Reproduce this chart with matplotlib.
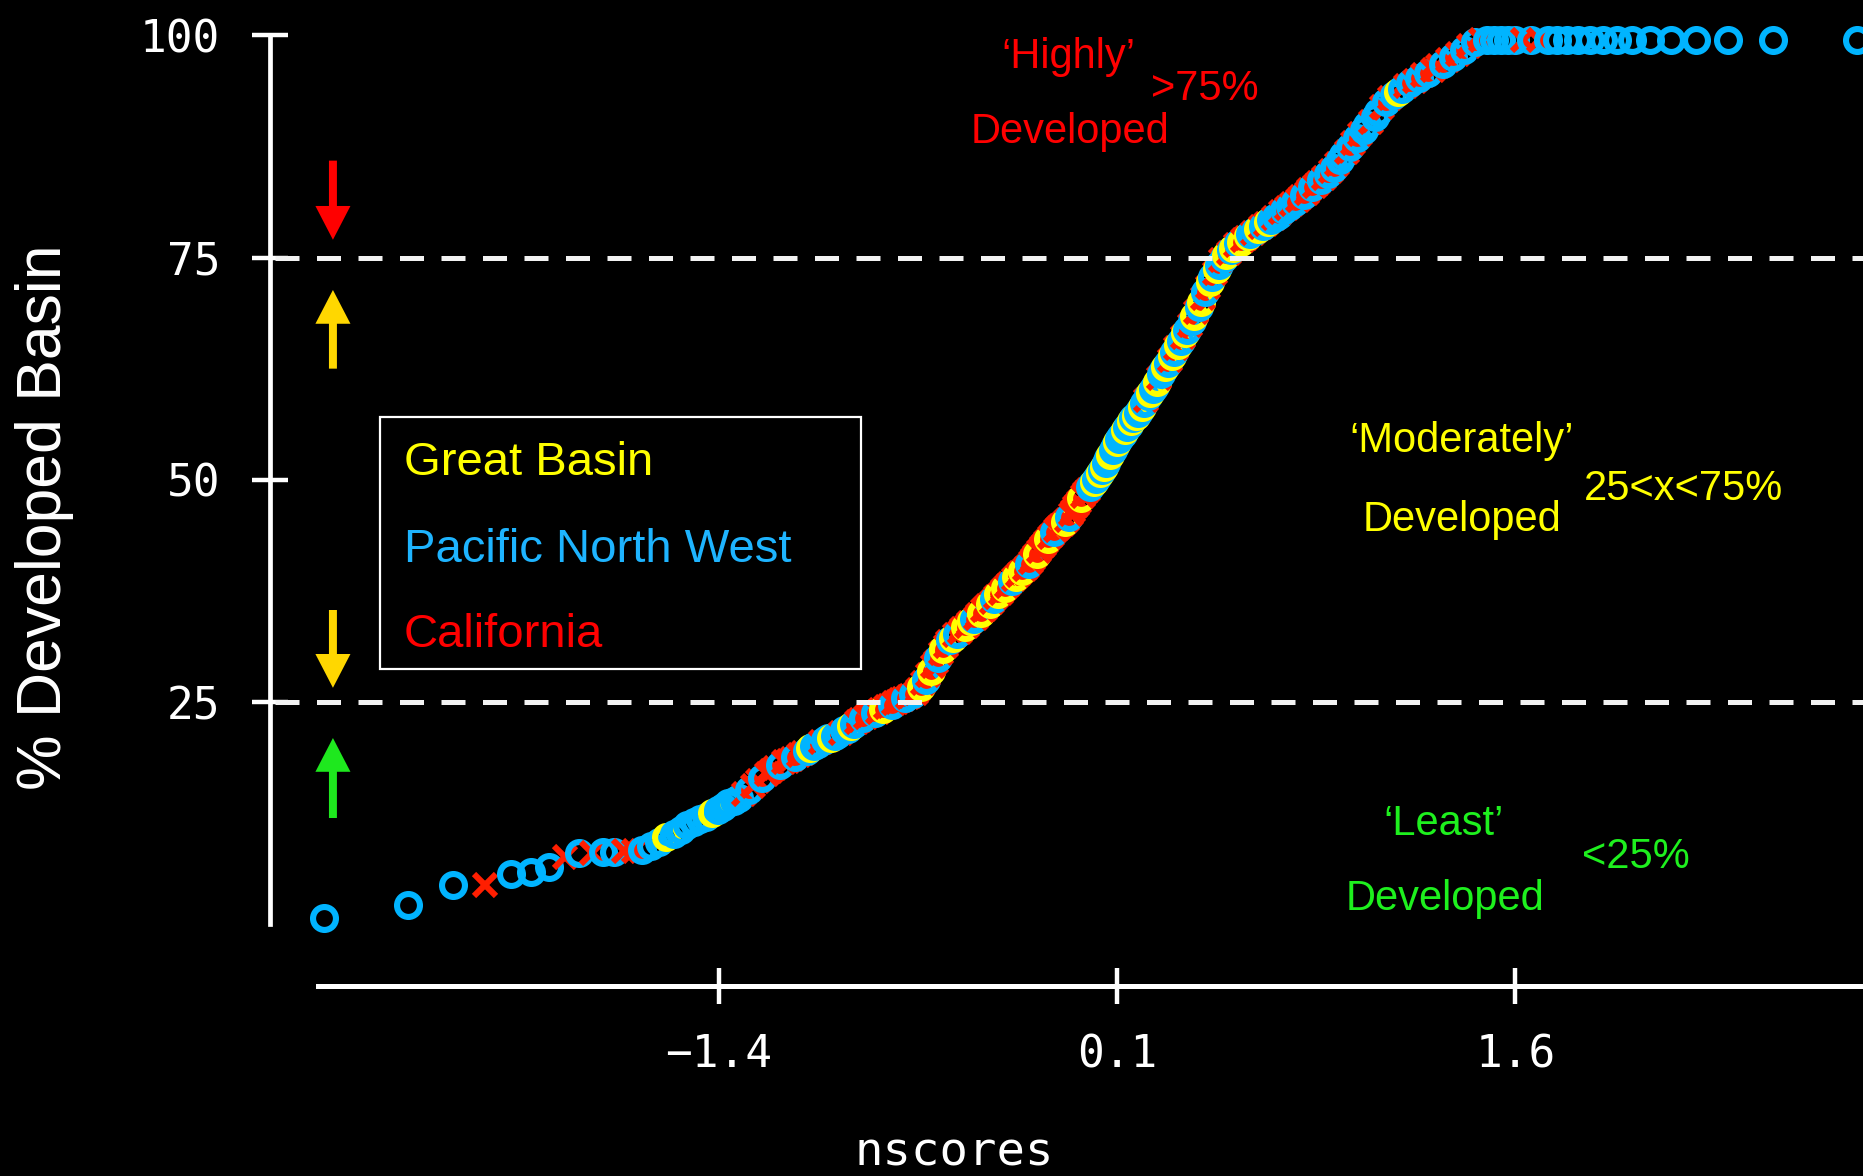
import matplotlib
matplotlib.use("Agg")
import matplotlib.pyplot as plt
from matplotlib.patches import Rectangle
from statistics import NormalDist

plt.rcParams['font.family'] = ['Liberation Sans', 'DejaVu Sans']

W, H = 1863, 1176

# Percent of basin area developed, pooled over all regions, sorted ascending
pct_developed = [
    0.7, 2.2, 4.4, 4.4, 5.6, 5.9, 6.4, 7.6,
    8.0, 8.0, 8.1, 8.1, 8.2, 8.2, 8.3,
    8.8, 9.3, 9.8, 10.1, 10.6, 11.2,
    11.5, 11.8, 12.1, 12.5,
    12.9, 13.2, 13.6, 13.9, 14.2,
    14.6, 15.1, 15.6, 16.1,
    16.5, 16.9, 17.2, 17.6,
    17.9, 18.2, 18.4, 18.6, 18.8,
    19.0, 19.3, 19.5, 19.8, 20.0, 20.3,
    20.5, 20.7, 20.9, 21.0, 21.2, 21.4, 21.5,
    21.8, 22.0, 22.3, 22.5, 22.8, 23.0,
    23.2, 23.3, 23.5, 23.6, 23.8, 23.9, 24.1,
    24.2, 24.4, 24.5, 24.7, 24.9, 25.0, 25.2,
    25.3, 25.5, 25.6, 25.7, 25.9, 26.0,
    26.4, 26.7, 27.1, 27.5,
    28.0, 28.5, 29.0, 29.5,
    30.0, 30.5, 31.0,
    31.3, 31.7, 32.0,
    32.2, 32.5, 32.7, 32.9, 33.2, 33.4, 33.6, 33.9, 34.1, 34.3, 34.5, 34.8, 35.0,
    35.3, 35.5, 35.8, 36.0, 36.3, 36.6, 36.8, 37.1, 37.3, 37.6, 37.8, 38.1, 38.3,
    38.6, 38.8, 39.1, 39.3, 39.5, 39.7, 40.0, 40.2,
    40.5, 40.8, 41.1, 41.4, 41.7, 42.0, 42.4, 42.7, 43.0, 43.3, 43.6,
    43.8, 44.1, 44.3, 44.6, 44.8, 45.0, 45.3, 45.5,
    45.8, 46.2, 46.5, 46.9, 47.2, 47.5, 47.9, 48.2, 48.5, 48.9,
    49.2, 49.5, 49.8, 50.1, 50.4, 50.8, 51.1, 51.4,
    51.9, 52.4, 52.8, 53.3, 53.8, 54.2, 54.6,
    54.9, 55.2, 55.6, 55.9, 56.2, 56.6, 56.9, 57.2, 57.5, 57.9, 58.2,
    58.6, 59.0, 59.4, 59.8, 60.2, 60.6,
    61.0, 61.4, 61.9, 62.3, 62.7, 63.1, 63.5,
    63.9, 64.4, 64.8, 65.2, 65.6, 66.1, 66.5,
    66.9, 67.4, 67.9, 68.4, 68.9, 69.4,
    70.0, 70.5, 71.1, 71.7, 72.2, 72.8,
    73.3, 73.7, 74.2, 74.7,
    75.0, 75.3, 75.5, 75.8, 76.1, 76.4,
    76.6, 76.8, 77.0, 77.2, 77.4, 77.6, 77.8, 78.0, 78.2,
    78.4, 78.6, 78.8, 79.0, 79.2, 79.4, 79.6,
    79.8, 80.1, 80.3, 80.6, 80.8, 81.0, 81.3, 81.5,
    81.8, 82.0, 82.3, 82.6, 82.9, 83.1, 83.4, 83.7,
    84.0, 84.4, 84.7, 85.1, 85.5,
    86.0, 86.5, 86.9, 87.4,
    87.9, 88.4, 88.9, 89.4, 89.9, 90.3,
    90.8, 91.4, 91.9, 92.5, 93.0,
    93.3, 93.6, 94.0, 94.3, 94.6,
    94.9, 95.2, 95.5, 95.8, 96.1,
    96.5, 96.8, 97.2, 97.6, 97.9, 98.3,
    98.8, 99.2,
    99.5, 99.5, 99.5, 99.5, 99.5, 99.5, 99.5, 99.5, 99.5, 99.5,
    99.5, 99.5, 99.5, 99.5, 99.5, 99.5, 99.5, 99.5, 99.5, 99.5,
    99.5, 99.5, 99.5,
]

# region of each basin in the same order (G = Great Basin, P = Pacific NW, C = California)
region_codes = "".join([
    "PPPCPPPC", "PCPPCCP",
    "PPGPPPPPPGPPPPP", "CPCCPCCCPCCCPCC", "PGPPCPPGPPCPPGP",
    "CCPCCCPCCGCCPCCCCPCC", "PCCGCPCGCCPCGCCPGCPC",
    "CGCCGPCCGCCCGCPCGCCGCCPCG", "CCGCCPCCCGCCCCGCCPCCCCGCP",
    "CCCCCGCCCPPGPPGPGPPGPPGPP", "PGPPGPGPPGPCPGPPGCPPGPCGP",
    "CGPCGPCPGCPGCPCGPCGPCPGCP", "GCPGCCGPCPGCPCGPCPPCPCPCP",
    "CCPCCPCCPCPCPCPPCPCPCPPCP", "PCPCPGPCPCPCPCCPCPCPCP",
    "CPPPPPCPCPPPPPPPPPPPPPP",
])
assert len(region_codes) == len(pct_developed)

regions = ["Great Basin", "Pacific North West", "California"]
region_keys = ["G", "P", "C"]
region_colors = ["#FFFF00", "#00B4FF", "#FF1E00"]
region_markers = ["o", "o", "x"]
style = {k: (c, m) for k, c, m in zip(region_keys, region_colors, region_markers)}

thresholds = [25, 75]
yticks = [25, 50, 75, 100]
xticks = [-1.4, 0.1, 1.6]

# normal scores (Blom plotting positions) of the pooled ranks
n = len(pct_developed)
nd = NormalDist()
nscores = [nd.inv_cdf((i - 0.375) / (n + 0.25)) for i in range(1, n + 1)]

fig = plt.figure(figsize=(W / 100, H / 100), dpi=100, facecolor="black")
ax = fig.add_axes([0, 0, 1, 1], facecolor="black")
ax.set_xlim(-4.108, 2.909)
ax.set_ylim(-28.32, 103.97)

y_axis_x = -3.091
x_axis_y = -6.95
for side in ["top", "right"]:
    ax.spines[side].set_visible(False)
ax.spines["left"].set_position(("data", y_axis_x))
ax.spines["left"].set_bounds(0, 100)
ax.spines["left"].set_linewidth(3.4)
ax.spines["bottom"].set_position(("data", x_axis_y))
ax.spines["bottom"].set_bounds(-2.91, 2.909)
ax.spines["bottom"].set_linewidth(3.6)
for side in ["left", "bottom"]:
    ax.spines[side].set_color("white")

ax.set_yticks(yticks)
ax.set_yticklabels([str(t) for t in yticks], fontfamily="DejaVu Sans Mono")
ax.set_xticks(xticks)
ax.set_xticklabels([f"{t:.1f}".replace("-", "\u2212") for t in xticks],
                   fontfamily="DejaVu Sans Mono")
ax.tick_params(axis="both", direction="inout", length=26, width=3.2,
               colors="white", labelsize=32)
ax.tick_params(axis="y", pad=23)
ax.tick_params(axis="x", pad=21)

# points drawn in rank order so the regions overlap one another
for z, v, r in zip(nscores, pct_developed, region_codes):
    col, mk = style[r]
    ax.plot([z], [v], linestyle="none", marker=mk, ms=16.5, mew=4.4,
            mfc="none", mec=col, zorder=3, clip_on=False)

# class boundaries
ax.hlines(thresholds, -3.072, 2.909, colors="#F2F2F2", lw=3.6,
          linestyles=(0, (4.8, 3.5)), zorder=5)

# arrows pointing at each boundary
arrow_x = -2.854
arrows = [(85.9, 77.0, "#FF0000"), (62.5, 71.35, "#FFD700"),
          (35.35, 26.6, "#FFD700"), (11.95, 20.95, "#1EE81E")]
for tail, tip, col in arrows:
    ax.arrow(arrow_x, tail, 0, tip - tail, width=0.030, head_width=0.132,
             head_length=3.8, length_includes_head=True, color=col, lw=0,
             zorder=4)


def ftext(x, y, s, **kw):
    fig.text(x / W, 1 - y / H, s, **kw)


# legend box
fig.add_artist(Rectangle((380 / W, 1 - 669 / H), 481 / W, 252 / H,
                         transform=fig.transFigure, facecolor="black",
                         edgecolor="white", lw=1.6, zorder=6))
for name, col, base in zip(regions, ["#FFFF00", "#1EB4FF", "#FF0000"], [475, 562, 647]):
    ftext(404, base, name, color=col, fontsize=34, ha="left", va="baseline", zorder=7)

# class annotations
notes = [
    ("\u2018Highly\u2019", 1068, 68, "#FF0000"),
    (">75%", 1205, 100, "#FF0000"),
    ("Developed", 1070, 143, "#FF0000"),
    ("\u2018Moderately\u2019", 1462, 452, "#FFFF00"),
    ("25<x<75%", 1683, 500, "#FFFF00"),
    ("Developed", 1462, 531, "#FFFF00"),
    ("\u2018Least\u2019", 1444, 835, "#1EF01E"),
    ("<25%", 1636, 868, "#1EF01E"),
    ("Developed", 1445, 910, "#1EF01E"),
]
for s, x, y, col in notes:
    ftext(x, y, s, color=col, fontsize=30, ha="center", va="baseline")

ftext(45, 517, "% Developed Basin", color="white", fontsize=45, rotation=90,
      ha="center", va="center")
ftext(954, 1175, "nscores", color="white", fontsize=34, ha="center",
      va="bottom", fontfamily="DejaVu Sans Mono")

fig.savefig("out.png", dpi=100, facecolor="black")
